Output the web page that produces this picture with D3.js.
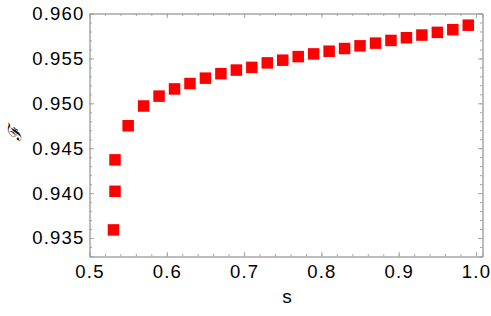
<!DOCTYPE html>
<html>
<head>
<meta charset="utf-8">
<script src="https://cdn.jsdelivr.net/npm/d3@7"></script>
<style>
  body { margin: 0; background: #fff; }
  svg { display: block; }
  .tick text { font-family: "Liberation Sans", Arial, sans-serif; font-size: 18.5px; letter-spacing: 1.2px; fill: #000; }
</style>
</head>
<body>
<svg width="491" height="316"></svg>
<script>
// s values and fidelity
const sVals = [0.531, 0.533, 0.533, 0.55, 0.57, 0.59, 0.61, 0.63, 0.65, 0.67, 0.69,
  0.71, 0.73, 0.75, 0.77, 0.79, 0.81, 0.83, 0.85, 0.87, 0.89, 0.91, 0.93, 0.95, 0.97, 0.99];
const fVals = [0.9359, 0.9402, 0.9437, 0.9475, 0.9497, 0.9508, 0.9516, 0.9522, 0.9528, 0.9533, 0.9537,
  0.9540, 0.9545, 0.9548, 0.9552, 0.9555, 0.9558, 0.9561, 0.9564, 0.9567, 0.9570, 0.9573, 0.9576, 0.9579, 0.9582, 0.9587];
const xTicks = [0.5, 0.6, 0.7, 0.8, 0.9, 1.0];
const yTicks = [0.935, 0.940, 0.945, 0.950, 0.955, 0.960];

const svg = d3.select("svg");
const margin = ({top: 13.5, right: 8.5, bottom: 59.5, left: 89.5});
const width = 491, height = 316;
const frameCol = "#a6a6a6";

const x = d3.scaleLinear()
    .domain([0.5, 1.0084])
    .range([margin.left, width - margin.right]);
const y = d3.scaleLinear()
    .domain([0.93294, 0.960])
    .range([height - margin.bottom, margin.top]);

const xMinor = d3.range(0.5, 1.0084, 0.02);
const yMinor = d3.range(0.933, 0.9601, 0.001);

function styleAxis(g) {
  g.select(".domain").attr("stroke", frameCol);
  g.selectAll(".tick line").attr("stroke", frameCol);
}

// minor ticks, all four sides
svg.append("g").attr("transform", `translate(0,${height - margin.bottom})`)
  .call(d3.axisBottom(x).tickValues(xMinor).tickSize(-2.5).tickFormat(""))
  .call(styleAxis);
svg.append("g").attr("transform", `translate(0,${margin.top})`)
  .call(d3.axisTop(x).tickValues(xMinor).tickSize(-2.5).tickFormat(""))
  .call(styleAxis);
svg.append("g").attr("transform", `translate(${margin.left},0)`)
  .call(d3.axisLeft(y).tickValues(yMinor).tickSize(-2.5).tickFormat(""))
  .call(styleAxis);
svg.append("g").attr("transform", `translate(${width - margin.right},0)`)
  .call(d3.axisRight(y).tickValues(yMinor).tickSize(-2.5).tickFormat(""))
  .call(styleAxis);

// major ticks
svg.append("g").attr("transform", `translate(0,${height - margin.bottom})`)
  .call(d3.axisBottom(x).tickValues(xTicks).tickSize(-4.5).tickPadding(8).tickFormat(d3.format(".1f")))
  .call(styleAxis);
svg.append("g").attr("transform", `translate(0,${margin.top})`)
  .call(d3.axisTop(x).tickValues(xTicks).tickSize(-4.5).tickFormat(""))
  .call(styleAxis);
svg.append("g").attr("transform", `translate(${margin.left},0)`)
  .call(d3.axisLeft(y).tickValues(yTicks).tickSize(-4.5).tickPadding(5).tickFormat(d3.format(".3f")))
  .call(styleAxis);
svg.append("g").attr("transform", `translate(${width - margin.right},0)`)
  .call(d3.axisRight(y).tickValues(yTicks).tickSize(-4.5).tickFormat(""))
  .call(styleAxis);

svg.selectAll(".tick text").attr("fill", "#000");

// data markers
const side = 11.5;
svg.append("g")
  .selectAll("rect")
  .data(sVals.map((s, i) => [s, fVals[i]]))
  .join("rect")
    .attr("x", d => x(d[0]) - side / 2)
    .attr("y", d => y(d[1]) - side / 2)
    .attr("width", side)
    .attr("height", side)
    .attr("fill", "#ff0000");

// axis labels
svg.append("text")
  .attr("x", 287)
  .attr("y", 303)
  .attr("text-anchor", "middle")
  .style("font-family", "Liberation Sans, Arial, sans-serif")
  .style("font-size", "19px")
  .text("s");

svg.append("text")
  .attr("transform", "translate(21,133) rotate(-90)")
  .attr("text-anchor", "middle")
  .style("font-family", "DejaVu Serif, serif")
  .style("font-style", "italic")
  .style("font-size", "18px")
  .text("ℱ");
</script>
</body>
</html>
